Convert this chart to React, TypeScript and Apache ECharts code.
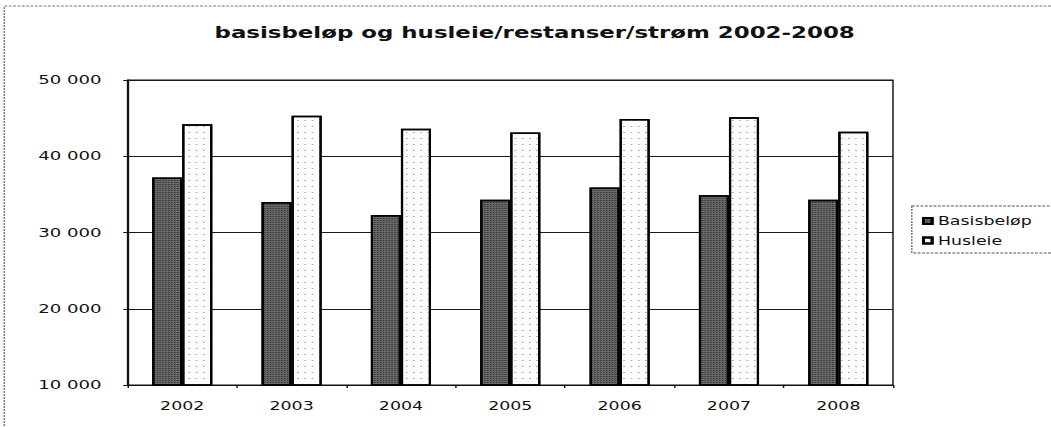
import React, { useEffect, useRef } from "react";
import * as echarts from "echarts";

const categories = ["2002", "2003", "2004", "2005", "2006", "2007", "2008"];
const basisbelop = [37200, 34000, 32300, 34300, 35900, 34900, 34300];
const husleie = [44200, 45300, 43600, 43100, 44900, 45100, 43200];
const yMin = 10000;
const yMax = 50000;
const yStep = 10000;
const titleText = "basisbeløp og husleie/restanser/strøm 2002-2008";
const seriesNames = ["Basisbeløp", "Husleie"];

// The reference is a horizontally stretched scan; reproduce that by stretching the chart.
const INNER_W = 725;
const OUTER_W = 1051;
const H = 427;
const S = OUTER_W / INNER_W;

const fmt = (v: number) => String(v).replace(/\B(?=(\d{3})+(?!\d))/g, " ");

export default function App() {
  const ref = useRef<HTMLDivElement>(null);
  useEffect(() => {
    document.body.style.margin = "0";
    if (!ref.current) return;
    const chart = echarts.init(ref.current, null, { renderer: "svg" });
    const labelFont = "DejaVu Sans";
    chart.setOption({
      animation: false,
      backgroundColor: "#fff",
      title: {
        text: titleText,
        left: 148,
        top: 25,
        padding: 0,
        textStyle: {
          fontFamily: "DejaVu Sans",
          fontWeight: "bold",
          fontSize: 15.8,
          color: "#111",
        },
      },
      legend: {
        orient: "vertical",
        left: 636,
        top: 214,
        padding: 0,
        itemWidth: 6,
        itemHeight: 6,
        itemGap: 5.5,
        icon: "rect",
        data: seriesNames,
        textStyle: {
          fontFamily: labelFont,
          fontSize: 12,
          lineHeight: 14,
          color: "#111",
          padding: [0, 0, 0, -1],
        },
      },
      grid: {
        left: 88,
        right: INNER_W - 616,
        top: 80,
        bottom: H - 385,
        show: true,
        borderColor: "#111",
        borderWidth: 1,
        backgroundColor: "transparent",
      },
      xAxis: {
        type: "category",
        data: categories,
        axisLine: { lineStyle: { color: "#111", width: 1.2 } },
        axisTick: { show: true, length: 3, lineStyle: { color: "#111" } },
        axisLabel: {
          fontFamily: labelFont,
          fontSize: 12,
          color: "#111",
          margin: 15,
        },
      },
      yAxis: {
        type: "value",
        min: yMin,
        max: yMax,
        interval: yStep,
        axisLine: { show: true, lineStyle: { color: "#111", width: 1.2 } },
        axisTick: { show: true, length: 3, lineStyle: { color: "#111" } },
        splitLine: { show: true, lineStyle: { color: "#1a1a1a", width: 1.2 } },
        axisLabel: {
          fontFamily: labelFont,
          fontSize: 12.5,
          color: "#111",
          margin: 18,
          formatter: (v: number) => fmt(v),
        },
      },
      series: [
        {
          name: seriesNames[0],
          type: "bar",
          data: basisbelop,
          barGap: "0%",
          barCategoryGap: "45%",
          itemStyle: {
            color: "#6a6a6a",
            borderColor: "#000",
            borderWidth: 1.5,
            decal: {
              symbol: "rect",
              symbolSize: 1,
              color: "rgba(20,20,20,0.7)",
              dashArrayX: [1, 1],
              dashArrayY: [1, 1],
              rotation: 0,
            },
          },
        },
        {
          name: seriesNames[1],
          type: "bar",
          data: husleie,
          barGap: "0%",
          barCategoryGap: "45%",
          itemStyle: {
            color: "#fcfcfc",
            borderColor: "#000",
            borderWidth: 1.5,
            decal: {
              symbol: "rect",
              symbolSize: 1,
              color: "#9a9a9a",
              dashArrayX: [1, 4],
              dashArrayY: [1, 5],
              rotation: 0,
            },
          },
        },
      ],
      graphic: [
        {
          type: "rect",
          silent: true,
          z: -10,
          shape: { x: 3, y: 6, width: 900, height: 600 },
          style: { fill: "none", stroke: "#777", lineWidth: 1, lineDash: [2, 1] },
        },
        {
          type: "rect",
          silent: true,
          shape: { x: 629, y: 206, width: 200, height: 47 },
          style: { fill: "none", stroke: "#555", lineWidth: 0.8, lineDash: [2, 1] },
        },
      ],
    });
    return () => chart.dispose();
  }, []);
  return (
    <div style={{ width: OUTER_W, height: H, overflow: "hidden", position: "relative", background: "#fff" }}>
      <div
        ref={ref}
        style={{
          width: INNER_W,
          height: H,
          transform: `scaleX(${S})`,
          transformOrigin: "0 0",
        }}
      />
    </div>
  );
}
